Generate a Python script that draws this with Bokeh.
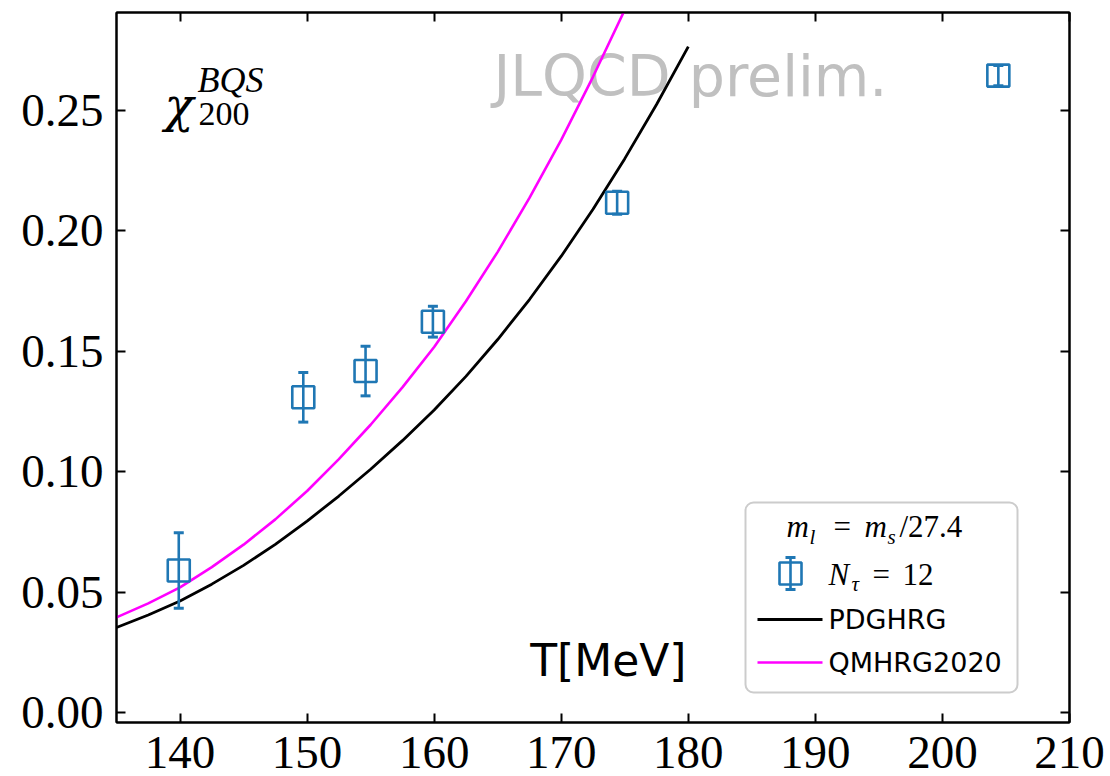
from bokeh.plotting import figure
from bokeh.models import (Range1d, LinearAxis, FixedTicker, NumeralTickFormatter,
                          CustomJSTickFormatter, ColumnDataSource, Whisker, TeeHead,
                          Label, BoxAnnotation)
from bokeh.embed import file_html
from bokeh.resources import INLINE

# ---- lattice results (N_tau = 12) ----
T_LAT = [139.9, 149.7, 154.6, 159.9, 174.4, 204.4]
CHI_LAT = [0.0590, 0.1309, 0.1418, 0.1623, 0.2117, 0.2645]
CHI_ERR = [0.0157, 0.0103, 0.0103, 0.0064, 0.0048, 0.0042]

# ---- hadron resonance gas curves ----
T_PDG = [135.0, 137.5, 140.0, 142.5, 145.0, 147.5, 150.0, 152.5, 155.0,
         157.5, 160.0, 162.5, 165.0, 167.5, 170.0, 172.5, 175.0, 177.5, 180.0]
CHI_PDG = [0.0353, 0.0405, 0.0463, 0.0533, 0.0611, 0.0698, 0.0795, 0.0899, 0.1010,
           0.1129, 0.1256, 0.1396, 0.1549, 0.1715, 0.1895, 0.2090, 0.2300, 0.2525, 0.2765]

T_QM = [135.0, 137.5, 140.0, 142.5, 145.0, 147.5, 150.0, 152.5, 155.0,
        157.5, 160.0, 162.5, 165.0, 167.5, 170.0, 172.5, 175.0]
CHI_QM = [0.0395, 0.0453, 0.0520, 0.0604, 0.0697, 0.0802, 0.0920, 0.1052, 0.1195,
          0.1350, 0.1518, 0.1708, 0.1913, 0.2137, 0.2378, 0.2640, 0.2918]

X_TICKS = [140, 150, 160, 170, 180, 190, 200, 210]
Y_TICKS = [0.00, 0.05, 0.10, 0.15, 0.20, 0.25]

X0, X1 = 135.0, 210.0
Y0, Y1 = -0.00415, 0.2907

BLUE = "#1f77b4"
MAGENTA = "#ff00ff"
SERIF = "Liberation Serif"
SANS = "DejaVu Sans"

# frame geometry in pixels, used to place the legend and annotations
FL, FR, FT, FB = 116, 1069, 12, 722


def sx(px):
    return X0 + (px - FL) * (X1 - X0) / (FR - FL)


def sy(py):
    return Y1 - (py - FT) * (Y1 - Y0) / (FB - FT)


p = figure(width=1110, height=776, x_range=Range1d(X0, X1), y_range=Range1d(Y0, Y1),
           output_backend="svg", toolbar_location=None,
           min_border_left=FL, min_border_right=1110 - FR,
           min_border_top=FT, min_border_bottom=776 - FB)
p.xgrid.visible = False
p.ygrid.visible = False
p.outline_line_color = "black"
p.outline_line_width = 2
p.background_fill_color = "white"
p.border_fill_color = "white"


def style_axis(ax, ticks, show_labels):
    ax.ticker = FixedTicker(ticks=ticks)
    ax.minor_tick_line_color = None
    ax.major_tick_in = 9
    ax.major_tick_out = 0
    ax.major_tick_line_width = 2
    ax.major_tick_line_color = "black"
    ax.axis_line_width = 2
    ax.axis_line_color = "black"
    ax.major_label_text_font = SERIF
    ax.major_label_text_font_size = "47px"
    ax.major_label_text_color = "black"
    if not show_labels:
        ax.formatter = CustomJSTickFormatter(code="return ''")
        ax.major_label_standoff = 0
        ax.major_label_text_font_size = "1px"


style_axis(p.xaxis[0], X_TICKS, True)
p.xaxis[0].major_label_standoff = 14
style_axis(p.yaxis[0], Y_TICKS, True)
p.yaxis[0].formatter = NumeralTickFormatter(format="0.00")
p.yaxis[0].major_label_standoff = 13

top_ax = LinearAxis()
style_axis(top_ax, X_TICKS, False)
p.add_layout(top_ax, "above")
right_ax = LinearAxis()
style_axis(right_ax, Y_TICKS, False)
p.add_layout(right_ax, "right")

# watermark behind the data
p.add_layout(Label(x=sx(493), y=sy(75), text="JLQCD prelim.", text_font=SANS,
                   text_font_size="57px", text_color="#c0c0c0", text_baseline="middle",
                   level="underlay"))

# legend frame, kept below the legend samples
p.add_layout(BoxAnnotation(left=sx(745), right=sx(1017), top=sy(502), bottom=sy(692),
                           fill_color="white", fill_alpha=0.85, line_color="#cccccc",
                           line_alpha=1.0, line_width=2, border_radius=8, level="underlay"))

# HRG curves
p.line(T_PDG, CHI_PDG, line_color="black", line_width=2.8)
p.line(T_QM, CHI_QM, line_color=MAGENTA, line_width=2.6)

# lattice points with error bars
src = ColumnDataSource(dict(
    t=T_LAT, chi=CHI_LAT,
    lo=[c - e for c, e in zip(CHI_LAT, CHI_ERR)],
    hi=[c + e for c, e in zip(CHI_LAT, CHI_ERR)],
))


def errorbars(source):
    p.add_layout(Whisker(source=source, base="t", lower="lo", upper="hi", dimension="height",
                         line_color=BLUE, line_width=2.6, level="glyph",
                         lower_head=TeeHead(size=10, line_color=BLUE, line_width=3),
                         upper_head=TeeHead(size=10, line_color=BLUE, line_width=3)))
    p.scatter("t", "chi", source=source, marker="square", size=22, fill_color=None,
              line_color=BLUE, line_width=2.6)


errorbars(src)


def txt(px, py, s, size, italic=False, font=SERIF, align="left", base=True):
    """Place text with its baseline (base=True) or its middle at pixel row py."""
    if base:
        py = py - 0.37 * size
    p.add_layout(Label(x=sx(px), y=sy(py), text=s, text_font=font,
                       text_font_style="italic" if italic else "normal",
                       text_font_size=f"{size}px", text_color="black",
                       text_align=align, text_baseline="alphabetic" if base else "middle"))


# observable label
txt(164, 122, "χ", 48, True, font="DejaVu Serif")
txt(198, 126, "200", 34)
txt(197, 93, "BQS", 36, True)

# x-axis title inside the frame
txt(686, 660, "T[MeV]", 44, font=SANS, align="right", base=False)

# legend: m_l = m_s/27.4
txt(786, 537, "m", 31, True)
txt(809, 544, "l", 21, True)
txt(833, 537, "=", 31)
txt(864, 537, "m", 31, True)
txt(887, 544, "s", 21, True)
txt(899, 537, "/27.4", 31)

# legend: marker sample
leg_src = ColumnDataSource(dict(t=[sx(790)], chi=[sy(573)], lo=[sy(589)], hi=[sy(557)]))
errorbars(leg_src)
txt(828, 585, "N", 31, True)
txt(851, 591, "τ", 21, True)
txt(872, 585, "=", 31)
txt(902, 585, "12", 31)

# legend: line samples
p.line([sx(757), sx(822)], [sy(619), sy(619)], line_color="black", line_width=2.8)
p.line([sx(757), sx(822)], [sy(662), sy(662)], line_color=MAGENTA, line_width=2.6)
txt(828, 619, "PDGHRG", 27, font=SANS, base=False)
txt(828, 662, "QMHRG2020", 27, font=SANS, base=False)

open("out.html", "w").write(file_html(p, INLINE))
